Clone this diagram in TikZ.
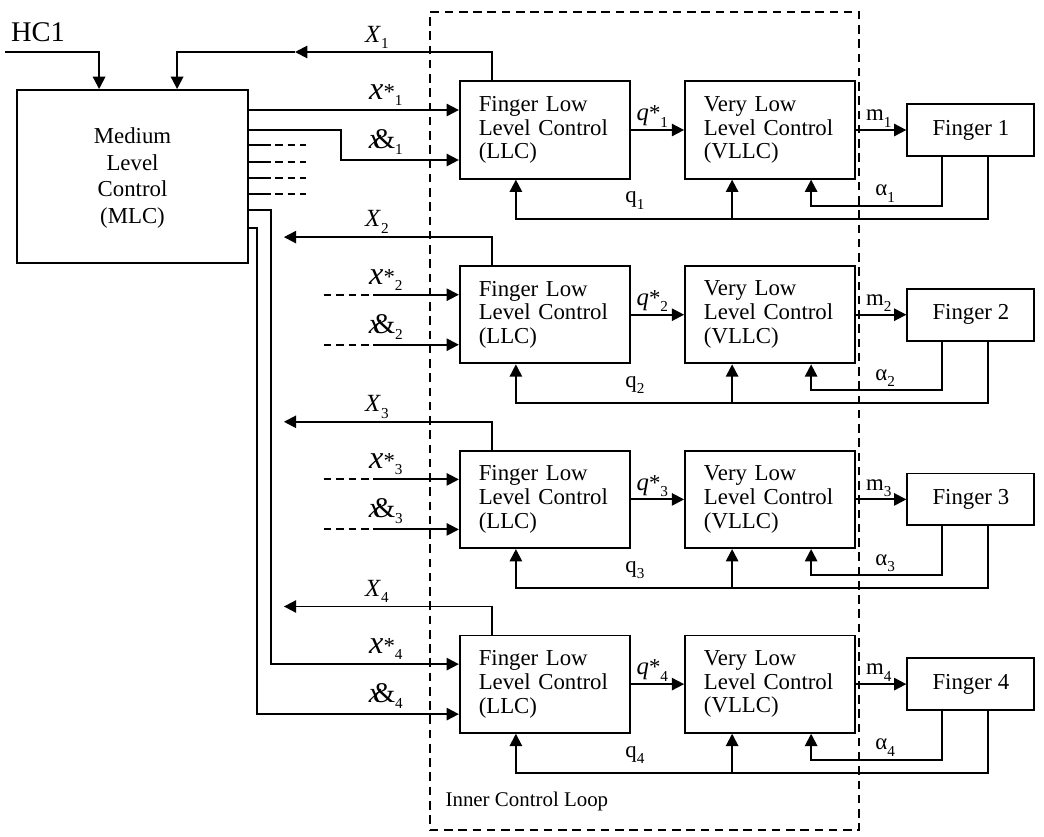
\documentclass[tikz,border=0pt]{standalone}
\usepackage{fontspec}
\setmainfont{Liberation Serif}
\usetikzlibrary{arrows.meta, positioning, calc}
\newcommand{\lsub}[1]{\raisebox{-0.6ex}{\footnotesize #1}}
\newcommand{\xstar}[1]{{\fontsize{17}{17}\selectfont\itshape x}{\fontsize{12}{12}\selectfont *}\lsub{#1}}
\newcommand{\xamp}[1]{{\fontsize{15}{15}\selectfont\itshape x\kern-0.3em\upshape\&}\lsub{#1}}
\newcommand{\qstar}[1]{{\fontsize{13}{13}\selectfont\itshape q}{\fontsize{12}{12}\selectfont *}\lsub{#1}}
\tikzset{
	blk/.style={rectangle, draw, line width=1pt, text width=2.45cm, inner xsep=0.35cm,
		minimum height=1.8cm, align=left, font=\fontsize{12}{12.5}\selectfont},
	mlcbox/.style={rectangle, draw, line width=1pt, minimum width=4.27cm,
		minimum height=3.2cm, align=center, font=\fontsize{12}{14}\selectfont},
	fingerbox/.style={rectangle, draw, line width=1pt, minimum width=2.35cm,
		minimum height=0.96cm, font=\fontsize{12}{14}\selectfont},
	loopbox/.style={rectangle, draw, line width=1pt, dash pattern=on 4.5pt off 3pt,
		minimum width=7.94cm, minimum height=15.13cm},
	arr/.style={-{Triangle[length=6.5pt, width=6.5pt]}, line width=1pt},
	ln/.style={line width=1pt},
	stub/.style={line width=1pt, dash pattern=on 4pt off 2.5pt},
	lbl/.style={font=\fontsize{12}{12}\selectfont, inner sep=1pt},
}

\begin{document}
\begin{tikzpicture}[x=0.0185cm, y=-0.0185cm]
	\useasboundingbox (0,0) rectangle (1044,836);
	\node[loopbox] (icl) at (644.5,421) {};
	\node[font=\fontsize{11}{11}\selectfont, anchor=base west] at ($(icl.south west)+(10,-25)$) {Inner Control Loop};

	\node[mlcbox] (mlc) at (132.5,176.5) {\\[-4pt]Medium\\Level\\Control\\(MLC)};
	\node[font=\fontsize{15}{15}\selectfont] (hc1) at (38,32) {HC1};
	\coordinate (hcin) at (5,52);
	\draw[arr] (hcin) -| ($(mlc.north west)+(83,0)$);

	\foreach \i in {1,...,4} {
		\node[blk] (llc\i) at (545,{130+184.7*(\i-1)}) {Finger Low\\Level Control\\(LLC)};
		\node[blk, right=0.98cm of llc\i] (vllc\i) {Very Low\\Level Control\\(VLLC)};
		\node[fingerbox, right=0.925cm of vllc\i] (fin\i) {Finger \i};
		\draw[arr] (llc\i) -- node[lbl, above, pos=0.4] {\qstar{\i}} (vllc\i);
		\draw[arr] (vllc\i) -- node[lbl, above, pos=0.45] {m\lsub{\i}} (fin\i);
		% feedback from the finger
		\draw[arr] ($(fin\i.south west)+(36,0)$) |- ($(vllc\i.south west)+(127,26)$) -- ($(vllc\i.south west)+(127,0)$);
		\draw[arr] ($(fin\i.south west)+(82,0)$) |- ($(llc\i.south west)+(57,39)$) -- ($(llc\i.south west)+(57,0)$);
		\draw[arr] ($(vllc\i.south west)+(48,39)$) -- ($(vllc\i.south west)+(48,0)$);
		\node[lbl] at ($(vllc\i.south west)+(201,14)$) {α\lsub{\i}};
		\node[lbl] at ($(llc\i.south west)+(176,21)$) {q\lsub{\i}};
		% references into the LLC
		\coordinate (xs\i) at ($(llc\i.west)+(0,-20)$);
		\coordinate (xd\i) at ($(llc\i.west)+(0,30)$);
		\node[lbl] at ($(llc\i.west)+(-73,-35)$) {\xstar{\i}};
		\node[lbl] at ($(llc\i.west)+(-73,12)$) {\xamp{\i}};
		\node[lbl, font=\fontsize{13}{13}\selectfont] at ($(llc\i.north west)+(-82,-43)$) {\textit{X}\lsub{\i}};
	}

	% finger 1
	\coordinate (x1m) at (295,52);
	\draw[arr] ($(llc1.north west)+(33,0)$) |- (x1m);
	\draw[arr] (x1m) -| ($(mlc.north west)+(161,0)$);
	\draw[arr] (mlc.east |- xs1) -- (xs1);
	\draw[arr] ($(mlc.north east)+(0,41)$) -- ++(92,0) |- (xd1);
	\foreach \dy in {56,73,89,105} {
		\draw[ln] ($(mlc.north east)+(0,\dy)$) -- ++(14,0);
		\draw[stub] ($(mlc.north east)+(14,\dy)$) -- ++(43,0);
	}

	% fingers 2 and 3
	\foreach \i in {2,3} {
		\draw[stub] ($(xs\i)+(-135,0)$) -- ++(53,0);
		\draw[arr] ($(xs\i)+(-82,0)$) -- (xs\i);
		\draw[stub] ($(xd\i)+(-135,0)$) -- ++(53,0);
		\draw[arr] ($(xd\i)+(-82,0)$) -- (xd\i);
	}
	\foreach \i in {2,3,4}
		\draw[arr] ($(llc\i.north west)+(33,0)$) |- ($(llc\i.north west)+(-175,-28)$);

	% finger 4
	\draw[arr] ($(mlc.north east)+(0,121)$) -- ++(22,0) |- (xs4);
	\draw[arr] ($(mlc.north east)+(0,139)$) -- ++(8,0) |- (xd4);
\end{tikzpicture}
\end{document}
